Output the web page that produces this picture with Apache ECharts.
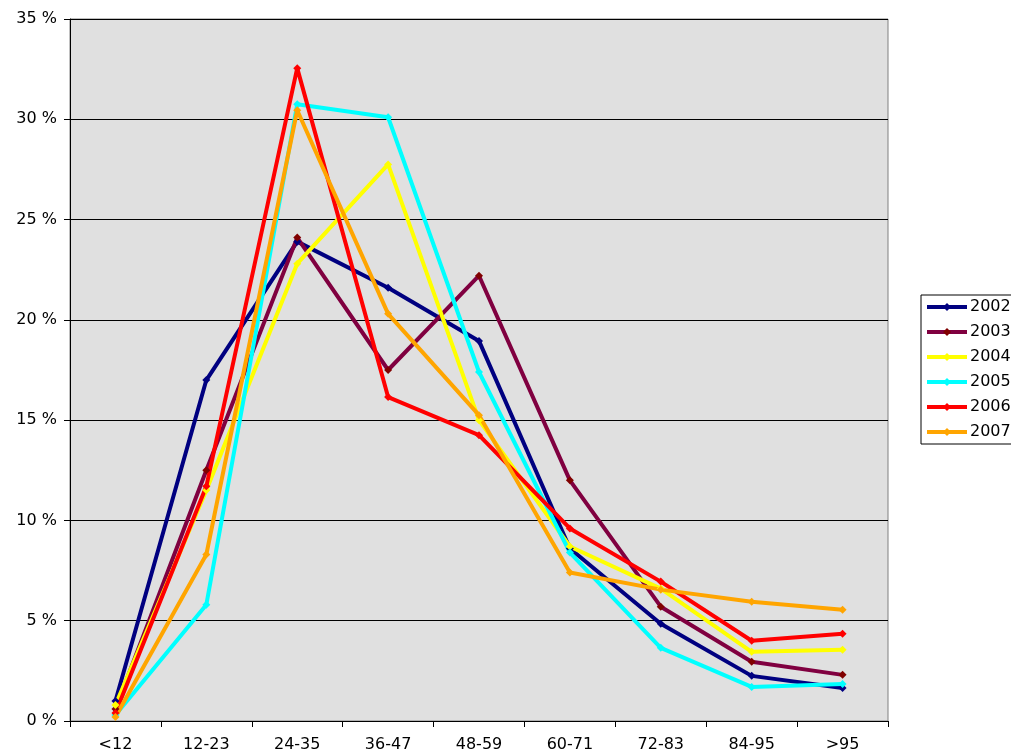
<!DOCTYPE html>
<html>
<head>
<meta charset="utf-8">
<script src="https://cdn.jsdelivr.net/npm/echarts@6/dist/echarts.min.js"></script>
<style>
html, body { margin: 0; padding: 0; background: #fff; }
#chart { width: 1011px; height: 756px; }
</style>
</head>
<body>
<div id="chart"></div>
<script>
var categories = ['<12', '12-23', '24-35', '36-47', '48-59', '60-71', '72-83', '84-95', '>95'];
var years = ['2002', '2003', '2004', '2005', '2006', '2007'];

var v2002 = [1.0, 17.0, 23.9, 21.6, 18.95, 8.6, 4.85, 2.25, 1.65];
var v2003 = [0.6, 12.5, 24.1, 17.5, 22.2, 12.0, 5.7, 2.95, 2.3];
var v2004 = [0.8, 11.5, 22.8, 27.75, 15.0, 8.7, 6.6, 3.45, 3.55];
var v2005 = [0.3, 5.8, 30.75, 30.1, 17.4, 8.4, 3.65, 1.7, 1.85];
var v2006 = [0.4, 11.7, 32.55, 16.15, 14.25, 9.6, 6.95, 4.0, 4.35];
var v2007 = [0.2, 8.3, 30.45, 20.3, 15.25, 7.4, 6.55, 5.95, 5.55];

var lineColors = ['#000080', '#800040', '#FFFF00', '#00FFFF', '#FF0000', '#FFA500'];
var markColors = ['#000080', '#800000', '#FFFF00', '#00FFFF', '#FF0000', '#FFA500'];
var allValues = [v2002, v2003, v2004, v2005, v2006, v2007];

var myChart = echarts.init(document.getElementById('chart'));

var series = years.map(function (y, i) {
    return {
        name: y,
        type: 'line',
        data: allValues[i],
        symbol: 'diamond',
        symbolSize: 8,
        showAllSymbol: true,
        lineStyle: { color: lineColors[i], width: 4 },
        itemStyle: { color: markColors[i] },
        emphasis: { disabled: true }
    };
});

var option = {
    animation: false,
    grid: {
        left: 70,
        top: 19,
        right: 123,
        bottom: 35,
        show: true,
        backgroundColor: '#E0E0E0',
        borderColor: '#808080',
        borderWidth: 1
    },
    legend: {
        orient: 'vertical',
        left: 921,
        top: 295,
        data: years,
        backgroundColor: '#fff',
        borderColor: '#000',
        borderWidth: 1,
        padding: [3, 4, 3, 4],
        itemGap: 7,
        itemWidth: 40,
        itemHeight: 10,
        lineStyle: { width: 4 },
        textStyle: { fontFamily: 'DejaVu Sans', fontSize: 16, lineHeight: 18, color: '#000', padding: [0, 0, 0, -2] }
    },
    xAxis: {
        type: 'category',
        data: categories,
        boundaryGap: true,
        axisLine: { lineStyle: { color: '#000', width: 1 } },
        axisTick: { show: true, inside: false, length: 6, lineStyle: { color: '#000' } },
        axisLabel: { fontFamily: 'DejaVu Sans', fontSize: 16, color: '#000', margin: 16 },
        splitLine: { show: false }
    },
    yAxis: {
        type: 'value',
        min: 0,
        max: 35,
        interval: 5,
        axisLine: { show: true, lineStyle: { color: '#000', width: 1 } },
        axisTick: { show: true, inside: false, length: 6, lineStyle: { color: '#000' } },
        axisLabel: { fontFamily: 'DejaVu Sans', fontSize: 16, color: '#000', formatter: '{value} %', margin: 13 },
        splitLine: { show: true, lineStyle: { color: '#000', width: 1 } }
    },
    series: series
};

myChart.setOption(option);
</script>
</body>
</html>
